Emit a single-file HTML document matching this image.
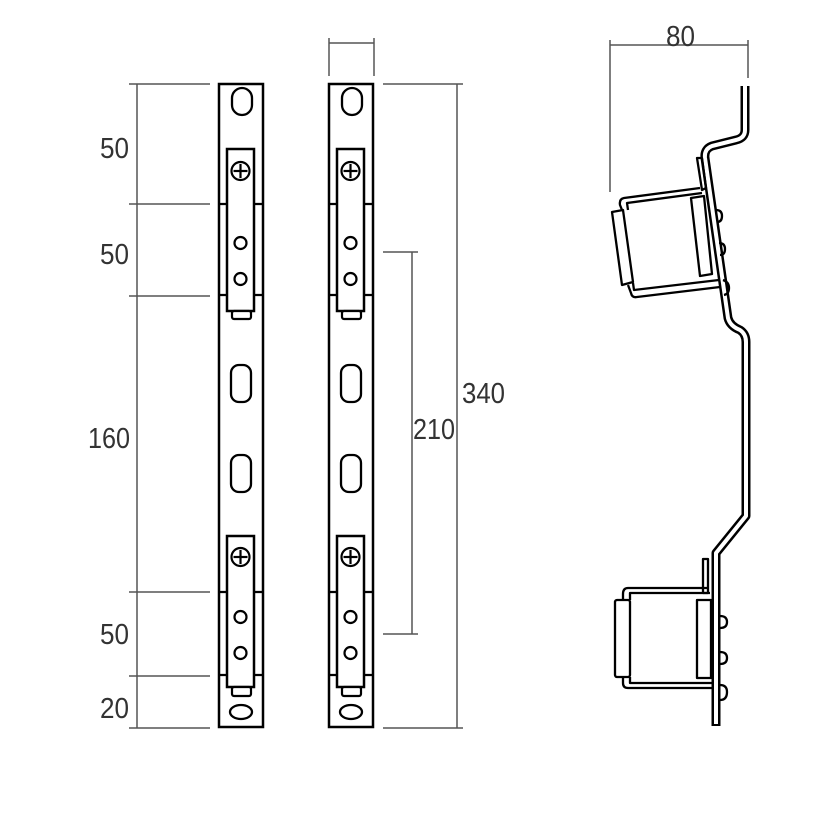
<!DOCTYPE html>
<html><head><meta charset="utf-8"><style>html,body{margin:0;padding:0;background:#fff}svg{display:block}</style></head>
<body>
<svg width="813" height="813" viewBox="0 0 813 813" xmlns="http://www.w3.org/2000/svg">
<defs>
<g id="clipA">
  <rect x="227" y="0" width="27" height="162" fill="#fff" stroke="#000" stroke-width="2.5"/>
  <rect x="232" y="162" width="19" height="8" rx="2" fill="#fff" stroke="#000" stroke-width="2.2"/>
  <circle cx="240.5" cy="22" r="9" fill="none" stroke="#000" stroke-width="2.2"/>
  <line x1="240.5" y1="15" x2="240.5" y2="29" stroke="#000" stroke-width="2.2"/>
  <line x1="233.5" y1="22" x2="247.5" y2="22" stroke="#000" stroke-width="2.2"/>
  <circle cx="240.5" cy="94" r="6" fill="none" stroke="#000" stroke-width="2.2"/>
  <circle cx="240.5" cy="130" r="6" fill="none" stroke="#000" stroke-width="2.2"/>
</g>
<g id="clipB">
  <rect x="227" y="0" width="27" height="151" fill="#fff" stroke="#000" stroke-width="2.5"/>
  <rect x="232" y="151" width="19" height="9" rx="2" fill="#fff" stroke="#000" stroke-width="2.2"/>
  <circle cx="240.5" cy="21" r="9" fill="none" stroke="#000" stroke-width="2.2"/>
  <line x1="240.5" y1="14" x2="240.5" y2="28" stroke="#000" stroke-width="2.2"/>
  <line x1="233.5" y1="21" x2="247.5" y2="21" stroke="#000" stroke-width="2.2"/>
  <circle cx="240.5" cy="81" r="6" fill="none" stroke="#000" stroke-width="2.2"/>
  <circle cx="240.5" cy="117" r="6" fill="none" stroke="#000" stroke-width="2.2"/>
</g>
<g id="rail">
  <rect x="219" y="84" width="44" height="643" fill="#fff" stroke="#000" stroke-width="2.5"/>
  <rect x="232" y="88" width="20" height="27" rx="10" fill="none" stroke="#000" stroke-width="2.3"/>
  <rect x="231" y="365" width="20" height="37" rx="8" fill="none" stroke="#000" stroke-width="2.3"/>
  <rect x="231" y="455" width="20" height="37" rx="8" fill="none" stroke="#000" stroke-width="2.3"/>
  <ellipse cx="241" cy="712" rx="11" ry="7" fill="none" stroke="#000" stroke-width="2.3"/>
  <g stroke="#000" stroke-width="2.2">
    <line x1="219" y1="204" x2="263" y2="204"/><line x1="219" y1="295" x2="263" y2="295"/>
    <line x1="219" y1="592" x2="263" y2="592"/><line x1="219" y1="675" x2="263" y2="675"/>
  </g>
  <use href="#clipA" transform="translate(0,149)"/>
  <use href="#clipB" transform="translate(0,536)"/>
</g>
</defs>

<use href="#rail"/>
<use href="#rail" transform="translate(110,0)"/>

<!-- dimensions -->
<g stroke="#555" stroke-width="1.5" fill="none">
  <line x1="137" y1="84" x2="137" y2="728"/>
  <line x1="129" y1="84" x2="210" y2="84"/><line x1="129" y1="204" x2="210" y2="204"/>
  <line x1="129" y1="296" x2="210" y2="296"/><line x1="129" y1="592" x2="210" y2="592"/>
  <line x1="129" y1="676" x2="210" y2="676"/><line x1="129" y1="728" x2="210" y2="728"/>
  <line x1="329" y1="38" x2="329" y2="76"/><line x1="374" y1="38" x2="374" y2="76"/>
  <line x1="329" y1="43" x2="374" y2="43"/>
  <line x1="457" y1="84" x2="457" y2="728"/>
  <line x1="383" y1="84" x2="463" y2="84"/><line x1="383" y1="728" x2="463" y2="728"/>
  <line x1="412" y1="252" x2="412" y2="634"/>
  <line x1="383" y1="252" x2="418" y2="252"/><line x1="383" y1="634" x2="418" y2="634"/>
  <line x1="610" y1="40" x2="610" y2="192"/><line x1="748" y1="40" x2="748" y2="78"/>
  <line x1="610" y1="45" x2="748" y2="45"/>
</g>
<g font-family="Liberation Sans, sans-serif" font-size="29" fill="#333">
  <text x="100" y="158" textLength="29" lengthAdjust="spacingAndGlyphs">50</text>
  <text x="100" y="264" textLength="29" lengthAdjust="spacingAndGlyphs">50</text>
  <text x="88" y="448" textLength="42" lengthAdjust="spacingAndGlyphs">160</text>
  <text x="100" y="644" textLength="29" lengthAdjust="spacingAndGlyphs">50</text>
  <text x="100" y="718" textLength="29" lengthAdjust="spacingAndGlyphs">20</text>
  <text x="413" y="439" textLength="42" lengthAdjust="spacingAndGlyphs">210</text>
  <text x="462" y="403" textLength="43" lengthAdjust="spacingAndGlyphs">340</text>
  <text x="666" y="46" textLength="29" lengthAdjust="spacingAndGlyphs">80</text>
</g>

<!-- side profile -->
<g fill="none" stroke-linejoin="round">
  <path d="M745,86 L745,130 Q745,138 736,140 L712,146 Q704,149 705,158 L728,318 Q730,326 740,330 Q746,334 746,342 L746,516 L716,553 L716,726" stroke="#000" stroke-width="9"/>
  <path d="M745,84 L745,130 Q745,138 736,140 L712,146 Q704,149 705,158 L728,318 Q730,326 740,330 Q746,334 746,342 L746,516 L716,553 L716,724" stroke="#fff" stroke-width="4"/>
</g>
<g fill="none" stroke="#000" stroke-width="2.3" stroke-linejoin="round">
  <path d="M697,158 L702,158 L706,188 L702,190 Z"/>
  <path d="M700,188 L624,198 Q619,199 620,205 L622,210"/>
  <path d="M702,193 L627,203 L628,210"/>
  <path d="M612,212 L623,210 L633,282 L622,285 Z" fill="#fff"/>
  <path d="M691,198 L704,196 L712,274 L700,276 Z" fill="#fff"/>
  <path d="M628,285 L631,293 Q632,298 637,297 L720,287"/>
  <path d="M633,283 L634,290 L719,280"/>
  <path d="M716,210 q6,0 6,6 q0,6 -5,6"/>
  <path d="M719,243 q6,0 6,6 q0,6 -5,6"/>
  <path d="M723,280 q6,2 6,8 q0,6 -5,7"/>
  <rect x="703" y="559" width="5" height="34"/>
  <path d="M708,588 L628,588 Q623,588 623,594 L623,600"/>
  <path d="M710,593 L630,593 L630,600"/>
  <rect x="615" y="600" width="15" height="77" rx="2" fill="#fff"/>
  <rect x="697" y="600" width="14" height="78" fill="#fff"/>
  <path d="M623,677 L623,683 Q623,688 628,688 L712,688"/>
  <path d="M630,677 L630,683 L712,683"/>
  <path d="M720,616 q7,0 7,6 q0,6 -7,6"/>
  <path d="M720,652 q7,0 7,6 q0,6 -7,6"/>
  <path d="M720,685 q7,0 7,7 q0,8 -7,8"/>
</g>
</svg>
</body></html>
